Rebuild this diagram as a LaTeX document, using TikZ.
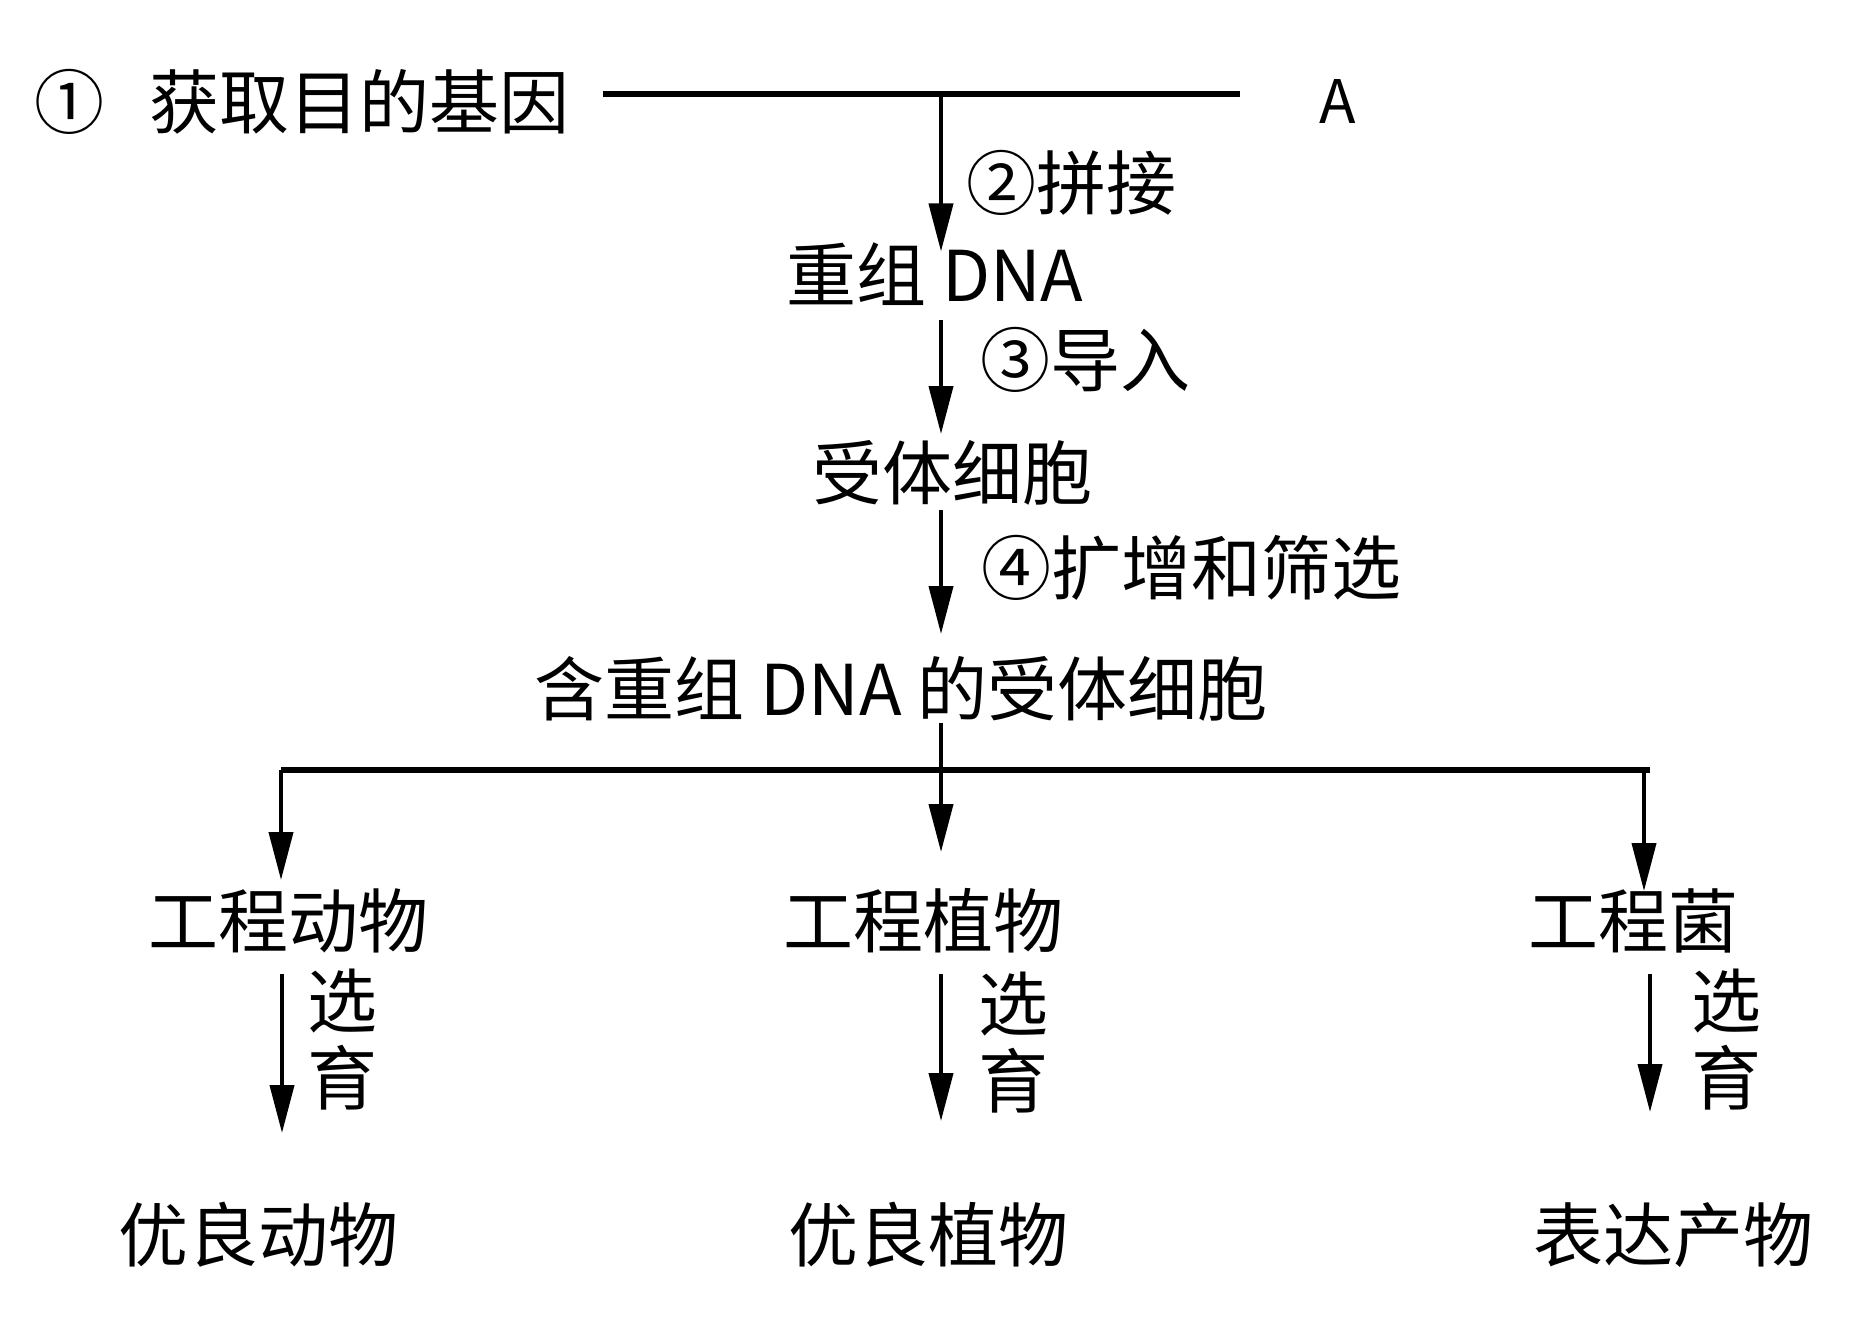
\documentclass[tikz,border=0pt]{standalone}
\usepackage{fontspec}
\newfontfamily\cjk{Noto Sans CJK SC}
\usetikzlibrary{arrows.meta}
\tikzset{
  txt/.style={font=\cjk\fontsize{70}{70}\selectfont, inner sep=0pt, outer sep=0pt, text height=56pt, text depth=7pt},
  arr/.style={line width=4pt, -{Triangle[length=48pt,width=24pt]}},
  bar/.style={line width=5.5pt},
}
\begin{document}
\begin{tikzpicture}[x=1pt,y=-1pt]
\useasboundingbox[fill=white] (0,0) rectangle (1851,1337);
% column
\coordinate (col) at (941,0);
% texts
\node[txt] (gene) at (302,104) {①\hspace{45pt}获取目的基因};
\node[txt,font=\cjk\fontsize{60}{60}\selectfont] (A) at (1338,99) {A};
\node[txt] (l2) at (1071,185) {②拼接};
\node[txt] (dna) at (935,277) {重组 DNA};
\node[txt] (l3) at (1085,362) {③导入};
\node[txt] (recv) at (952,475) {受体细胞};
\node[txt] (l4) at (1191,570) {④扩增和筛选};
\node[txt] (cont) at (901,691) {含重组 DNA 的受体细胞};
\node[txt] (ea) at (288,923) {工程动物};
\node[txt] (ep) at (923,923) {工程植物};
\node[txt] (eb) at (1633,923) {工程菌};
\node[txt] (s1) at (342,1003) {选};
\node[txt] (y1) at (342,1080) {育};
\node[txt] (s2) at (1013,1006) {选};
\node[txt] (y2) at (1013,1083) {育};
\node[txt] (s3) at (1726,1003) {选};
\node[txt] (y3) at (1726,1080) {育};
\node[txt] (ga) at (258,1237) {优良动物};
\node[txt] (gp) at (928,1237) {优良植物};
\node[txt] (gb) at (1673,1237) {表达产物};
% top line
\coordinate (tl) at (603,94);
\coordinate (tr) at (1240,94);
\coordinate (j1) at (941,94);
\draw[bar] (tl) -- (tr);
\draw[arr] (j1) -- ([yshift=-6pt]dna.north -| col);
\draw[arr] ([yshift=-11.5pt]dna.south -| col) -- ([yshift=9.5pt]recv.north -| col);
\draw[arr] ([yshift=-3.5pt]recv.south -| col) -- ([yshift=25.5pt]cont.north -| col);
% branching
\coordinate (h1) at (281,770);
\coordinate (h2) at (1650,770);
\coordinate (hr) at (1644,770);
\coordinate (b1) at (281,880);
\coordinate (b2) at (941,852);
\coordinate (b3) at (1644,891);
\draw[bar] (h1) -- (h2);
\draw[arr] (cont.south -| col) -- (b2);
\draw[arr] (h1) -- (b1);
\draw[arr] (hr) -- (b3);
% lower arrows
\coordinate (d1) at (282,1133);
\coordinate (d2) at (941,1121);
\coordinate (d3) at (1650,1112);
\draw[arr] ([yshift=-19.5pt]ea.south -| d1) -- (d1);
\draw[arr] ([yshift=-19.5pt]ep.south -| d2) -- (d2);
\draw[arr] ([yshift=-19.5pt]eb.south -| d3) -- (d3);
\end{tikzpicture}
\end{document}
